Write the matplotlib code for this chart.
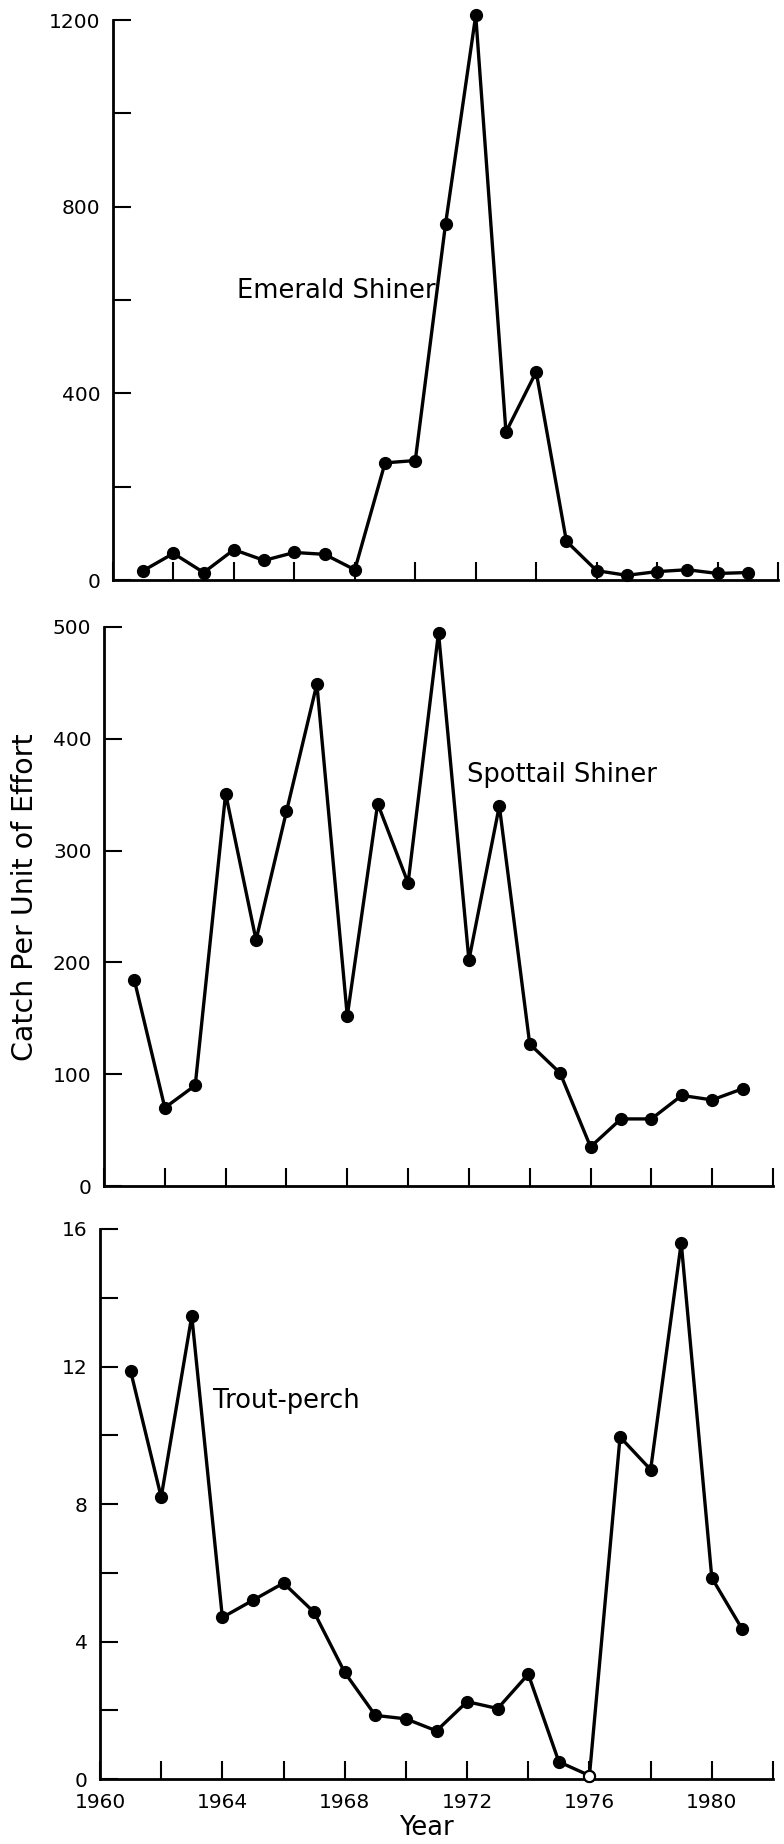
import numpy as np
import matplotlib
matplotlib.use("Agg")
import matplotlib.pyplot as plt
from matplotlib.ticker import MultipleLocator

# ---------- Data ----------
years = np.arange(1961, 1982)

emerald = [20, 57, 16, 65, 42, 59, 55, 22, 251, 256, 762, 1210,
           317, 446, 83, 20, 10, 18, 22, 14, 16]
spottail = [184, 70, 90, 351, 220, 335, 449, 152, 342, 271, 495, 202,
            340, 127, 101, 35, 60, 60, 81, 77, 87]
trout = [11.87, 8.2, 13.47, 4.7, 5.2, 5.7, 4.85, 3.1, 1.85, 1.75, 1.4, 2.25,
         2.05, 3.05, 0.5, 0.1, 9.95, 9.0, 15.6, 5.85, 4.35]

open_year = 1976  # plotted as open circle in trout-perch panel

x_ticks = list(range(1960, 1983, 2))
x_labels = ["1960", "", "1964", "", "1968", "", "1972", "", "1976", "", "1980", ""]

W, H = 784, 1844
fig = plt.figure(figsize=(W / 100, H / 100), dpi=100)


def make_axes(left, right, top, bottom):
    return fig.add_axes([left / W, 1 - bottom / H, (right - left) / W, (bottom - top) / H])


def style(ax, ymax, major, minor=None):
    ax.set_xlim(1960, 1982)
    ax.set_ylim(0, ymax)
    for s in ["top", "right"]:
        ax.spines[s].set_visible(False)
    for s in ["left", "bottom"]:
        ax.spines[s].set_linewidth(2.0)
    ax.yaxis.set_major_locator(MultipleLocator(major))
    if minor:
        ax.yaxis.set_minor_locator(MultipleLocator(minor))
    ax.set_xticks(x_ticks)
    ax.tick_params(axis="both", which="both", direction="in", length=13, width=1.5,
                   labelsize=14.5, pad=9)
    ax.tick_params(axis="x", which="both", pad=10)


def draw(ax, y):
    ax.plot(years, y, color="black", linewidth=2.4, marker="o", markersize=8.5,
            clip_on=False, zorder=3)


# ---------- Emerald Shiner ----------
ax1 = make_axes(113, 778, 20, 580)
style(ax1, 1200, 400, 200)
draw(ax1, emerald)
ax1.set_xticklabels([""] * len(x_ticks))
ax1.text(1964.1, 620, "Emerald Shiner", fontsize=18.5, ha="left", va="center")

# ---------- Spottail Shiner ----------
ax2 = make_axes(104, 773, 627, 1186)
style(ax2, 500, 100)
draw(ax2, spottail)
ax2.set_xticklabels([""] * len(x_ticks))
ax2.text(1971.95, 368, "Spottail Shiner", fontsize=18.5, ha="left", va="center")

# ---------- Trout-perch ----------
ax3 = make_axes(100, 773, 1229, 1779)
style(ax3, 16, 4, 2)
draw(ax3, trout)
idx = list(years).index(open_year)
ax3.plot(years[idx], trout[idx], "o", color="black", markerfacecolor="white",
         markersize=8, markeredgewidth=1.5, clip_on=False, zorder=4)
ax3.set_xticklabels(x_labels)
ax3.text(1963.7, 11.0, "Trout-perch", fontsize=18.5, ha="left", va="center")

fig.text(25 / W, 1 - 897 / H, "Catch Per Unit of Effort", rotation=90,
         fontsize=20.5, ha="center", va="center")
fig.text(426 / W, 1 - 1828 / H, "Year", fontsize=18.5, ha="center", va="center")

fig.savefig("out.png", dpi=100)
